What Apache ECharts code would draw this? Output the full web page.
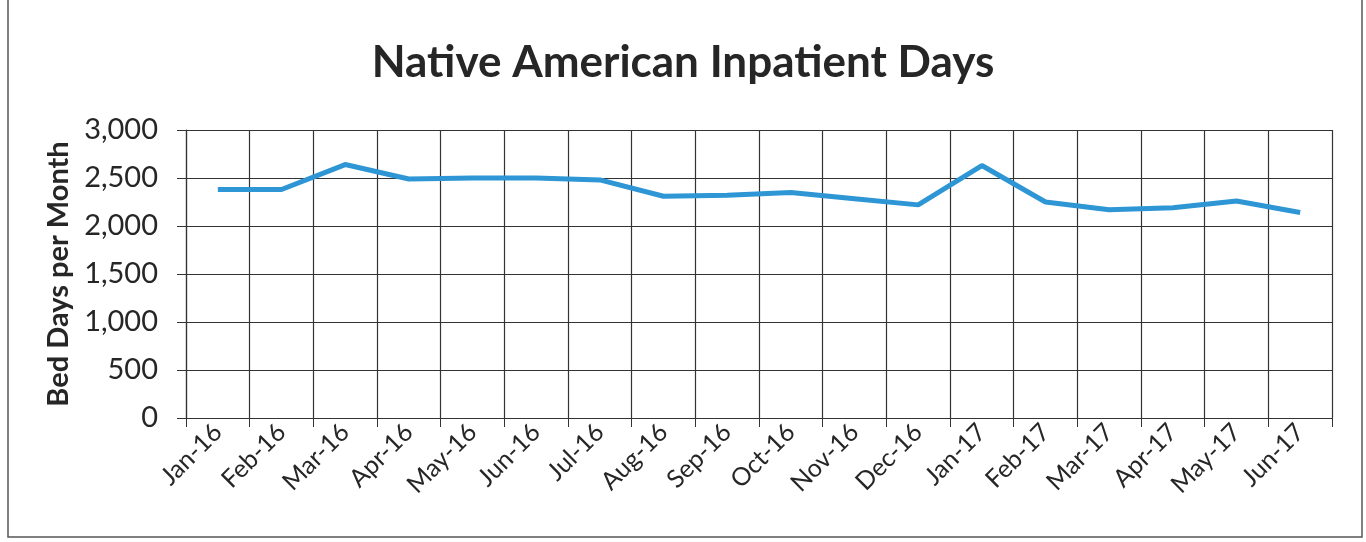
<!DOCTYPE html>
<html>
<head>
<meta charset="utf-8">
<title>Native American Inpatient Days</title>
<script src="https://cdn.jsdelivr.net/npm/echarts@6/dist/echarts.min.js"></script>
<style>
  html, body { margin: 0; padding: 0; background: #fff; }
  #main { width: 1366px; height: 542px; }
</style>
</head>
<body>
<div id="main"></div>
<script>
// months on the x axis
const months = ['Jan-16', 'Feb-16', 'Mar-16', 'Apr-16', 'May-16', 'Jun-16', 'Jul-16', 'Aug-16', 'Sep-16',
  'Oct-16', 'Nov-16', 'Dec-16', 'Jan-17', 'Feb-17', 'Mar-17', 'Apr-17', 'May-17', 'Jun-17']
// bed days per month
const bedDays = [2380, 2380, 2640, 2490, 2500, 2500, 2480, 2310, 2320,
  2350, 2285, 2220, 2630, 2250, 2170, 2190, 2260, 2140]

const myChart = echarts.init(document.getElementById('main'))
const font = 'Lato, "Open Sans", sans-serif'

const option = {
  backgroundColor: '#ffffff',
  animation: false,
  title: {
    text: 'Native American Inpatient Days',
    left: 'center',
    top: 36,
    textStyle: { fontFamily: font, fontSize: 44, fontWeight: 'bold', color: '#262626' }
  },
  // outer frame of the chart
  graphic: [{
    type: 'rect',
    shape: { x: 8, y: -2, width: 1354, height: 539 },
    style: { fill: 'none', stroke: '#555', lineWidth: 1.5 },
    silent: true
  }],
  grid: { left: 186, right: 34, top: 130, bottom: 124 },
  xAxis: {
    type: 'category',
    data: months,
    boundaryGap: true,
    axisLine: { lineStyle: { color: '#333', width: 1.2 } },
    axisTick: { show: true, length: 9, lineStyle: { color: '#333' } },
    splitLine: { show: true, lineStyle: { color: '#333', width: 1.2 } },
    axisLabel: {
      rotate: 45,
      interval: 0,
      margin: 10,
      fontFamily: font,
      fontSize: 25,
      color: '#262626'
    }
  },
  yAxis: {
    type: 'value',
    min: 0,
    max: 3000,
    interval: 500,
    name: 'Bed Days per Month',
    nameLocation: 'middle',
    nameGap: 112,
    nameTextStyle: { fontFamily: font, fontSize: 29, fontWeight: 'bold', color: '#262626' },
    axisLine: { show: true, lineStyle: { color: '#333', width: 1.2 } },
    axisTick: { show: true, length: 9, lineStyle: { color: '#333' } },
    splitLine: { show: true, lineStyle: { color: '#333', width: 1.2 } },
    axisLabel: {
      margin: 28,
      fontFamily: font,
      fontSize: 29,
      color: '#262626',
      formatter: function (v) { return v.toLocaleString('en-US') }
    }
  },
  series: [{
    name: 'Bed Days',
    type: 'line',
    data: bedDays,
    showSymbol: false,
    symbol: 'none',
    lineStyle: { color: '#2E96D4', width: 5 },
    itemStyle: { color: '#2E96D4' }
  }]
}
myChart.setOption(option)
</script>
</body>
</html>
